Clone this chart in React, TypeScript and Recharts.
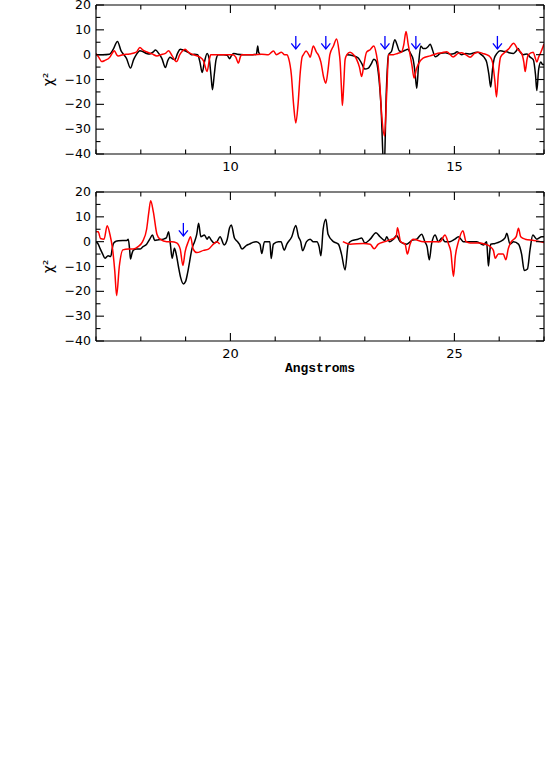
import React from 'react';
import { ComposedChart, Line, Scatter, XAxis, YAxis } from 'recharts';

type Pt = [number, number | null];

// upper panel, 7-17 Angstroms
const topBlack: Pt[] = [
  [7.0, 0], [7.15, 0], [7.3, 0.2], [7.38, 2], [7.48, 5.3], [7.56, 1.5], [7.62, 0], [7.68, -1.5],
  [7.77, -5.4], [7.84, -2], [7.9, 0], [7.98, 1.6], [8.05, 1.2], [8.13, 0.5], [8.2, 0.3], [8.27, 1],
  [8.33, 1.9], [8.4, 0.5], [8.47, -1.5], [8.55, -5.2], [8.6, -2.5], [8.65, -1], [8.72, -1.8],
  [8.76, -2], [8.82, 0.5], [8.88, 2.2], [8.95, 1.8], [9.0, 1.5], [9.07, 0.8], [9.13, 0], [9.2, 0.2],
  [9.27, 0], [9.32, -3], [9.37, -7.2], [9.42, -3], [9.48, 0.5], [9.53, -2], [9.57, -9], [9.6, -14.1],
  [9.64, -8], [9.68, -2], [9.73, 0], [9.85, 0], [9.93, -0.3], [9.98, -1.6], [10.02, -0.5],
  [10.07, 0.5], [10.15, 0.2], [10.3, 0], [10.5, 0], [10.58, 0.2], [10.61, 3.5], [10.63, 1],
  [10.66, 0.3], [11.6, null],
  [12.6, 0], [12.72, -0.3], [12.8, -0.8], [12.86, -1.4], [12.93, -3.5], [13.0, -5.8], [13.08, -5.4],
  [13.15, -3.5], [13.2, -1.8], [13.25, -2.5], [13.3, -7], [13.36, -20], [13.43, -48], [13.48, -15],
  [13.53, 0], [13.6, 1.5], [13.67, 6], [13.72, 4], [13.77, 1.5], [13.82, 1.2], [13.9, 1.8],
  [13.96, 2.2], [14.02, 0.5], [14.08, -2], [14.12, -7], [14.16, -13.5], [14.2, -4], [14.25, 3.5],
  [14.3, 2.5], [14.36, 2.5], [14.41, 3.2], [14.46, 4.2], [14.51, 2], [14.57, -0.8], [14.62, -0.5],
  [14.68, 0.5], [14.8, 0.8], [14.9, 0.2], [15.0, 0.5], [15.06, 1.2], [15.16, 0], [15.25, 0.5],
  [15.35, 0.3], [15.45, 0.8], [15.52, 1], [15.6, 0], [15.66, -1], [15.72, -3], [15.77, -8],
  [15.81, -13], [15.85, -6], [15.89, -1.5], [15.95, 0.5], [16.02, 1.6], [16.1, 1.3], [16.15, 1.3],
  [16.22, 0.8], [16.32, 0.5], [16.38, 1.5], [16.42, 2.5], [16.47, 1], [16.54, 0], [16.62, 0.3],
  [16.69, -1], [16.76, -2], [16.81, -8], [16.84, -14.4], [16.88, -6], [16.93, -3], [16.97, -4],
  [17.0, -4],
];

const topRed: Pt[] = [
  [7.0, 0.5], [7.06, -1], [7.13, -2.8], [7.2, -2.3], [7.31, -1], [7.36, 0.5], [7.41, 1.6],
  [7.46, 0], [7.5, -0.5], [7.6, 0], [7.75, 0.3], [7.9, 1], [7.98, 2.9], [8.05, 1.8], [8.15, 1],
  [8.25, 0.3], [8.36, -0.5], [8.45, 0], [8.55, 0.5], [8.62, 1.6], [8.7, -0.5], [8.8, -2.8],
  [8.87, 0], [8.93, 1.5], [8.99, 2.2], [9.06, 1], [9.17, 0], [9.32, -1], [9.4, -2.5], [9.48, -6.8],
  [9.53, -2], [9.56, 0], [9.7, 0], [9.9, 0], [10.06, 0], [10.12, -1], [10.18, -3.4], [10.22, -1],
  [10.25, 0], [10.5, 0], [10.7, 0.2], [10.85, 0], [10.96, 1.5], [11.03, 0], [11.14, 1], [11.21, 0],
  [11.26, 0], [11.3, -1.5], [11.36, -8], [11.41, -20], [11.46, -27.5], [11.51, -20], [11.56, -7],
  [11.6, -1], [11.63, 0], [11.69, 1.5], [11.75, 0], [11.78, -1], [11.85, 3.5], [11.92, 1],
  [11.96, 0], [12.02, -3], [12.08, -9], [12.13, -11.5], [12.18, -6], [12.22, 0], [12.3, 3.5],
  [12.37, 6.3], [12.42, 2], [12.45, -3], [12.48, -14], [12.5, -20.5], [12.53, -12], [12.56, -2],
  [12.6, 0], [12.67, 1], [12.75, 0], [12.82, -2], [12.88, -5], [12.93, -8.8], [12.98, -4],
  [13.04, 1], [13.12, 2], [13.2, 3.5], [13.26, 0], [13.32, -8], [13.38, -25], [13.44, -32.8],
  [13.49, -15], [13.53, 0], [13.64, 0], [13.73, 0.5], [13.82, 1], [13.87, 4], [13.92, 9.3],
  [13.97, 4], [14.01, 0], [14.05, -4], [14.1, -9.4], [14.15, -6], [14.19, -4], [14.3, -1.4],
  [14.46, -0.5], [14.6, 0.4], [14.72, 0.8], [14.83, 1.2], [14.97, -0.9], [15.08, 0.5], [15.16, 0.8],
  [15.25, 0], [15.35, -1], [15.45, 0.5], [15.54, 1], [15.63, 0.5], [15.72, 0], [15.8, -1],
  [15.85, -3], [15.9, -10], [15.94, -17], [15.98, -8], [16.03, -1], [16.13, 1], [16.22, 2.5],
  [16.32, 4.6], [16.42, 2], [16.5, 0.5], [16.55, -3], [16.58, -6.8], [16.62, -2], [16.65, 0],
  [16.76, 1], [16.8, -1], [16.84, -3], [16.88, -1], [16.93, 1], [17.0, 4.3],
];

// lower panel, 17-27 Angstroms
const bottomBlack: Pt[] = [
  [17.0, 0], [17.05, -1], [17.09, -2.7], [17.15, -5], [17.2, -6.7], [17.27, -5.7], [17.33, -6],
  [17.36, -3], [17.39, -0.7], [17.45, 0.2], [17.5, 0.4], [17.6, 0.5], [17.69, 0.5], [17.72, 1],
  [17.75, -3], [17.77, -7], [17.8, -5], [17.83, -3.5], [17.9, -3], [17.98, -3], [18.05, -2],
  [18.13, -1], [18.2, 1], [18.26, 2.7], [18.31, 0.5], [18.4, 0.8], [18.5, 1], [18.57, 1.5],
  [18.62, 4], [18.66, -1], [18.7, -6.7], [18.75, -2.7], [18.79, -5], [18.84, -10], [18.89, -14.5],
  [18.95, -17], [19.0, -16], [19.04, -13], [19.09, -8], [19.14, -3], [19.2, 0], [19.25, 3],
  [19.29, 7.4], [19.34, 2], [19.42, 2.7], [19.48, 1], [19.52, 2], [19.57, 0.7], [19.64, -0.5],
  [19.7, 0], [19.77, 2], [19.86, -1.3], [19.93, 1], [19.98, 5.5], [20.02, 6.7], [20.09, 1.5],
  [20.16, 0], [20.2, -1], [20.26, -3], [20.36, -1.5], [20.42, -1], [20.5, -0.3], [20.58, 0],
  [20.66, -1], [20.7, -4.8], [20.76, 0], [20.88, 0], [20.91, -6.8], [20.96, -1], [21.07, 0],
  [21.13, 0], [21.2, -3.4], [21.26, -1], [21.37, 2], [21.46, 6.5], [21.52, 2], [21.57, 0],
  [21.61, -3.6], [21.7, 0], [21.78, 1], [21.85, 0], [21.93, 0], [21.98, -2], [22.02, -5.7],
  [22.07, 5], [22.13, 9], [22.18, 3], [22.3, 0], [22.41, -1], [22.48, -5], [22.56, -11.4],
  [22.63, -1], [22.71, 0.4], [22.85, 1], [22.93, 1.5], [23.0, -0.5], [23.12, 1], [23.25, 3.6],
  [23.34, 2], [23.45, 0.5], [23.49, 2], [23.55, 0], [23.64, 1], [23.71, 2.5], [23.79, 0],
  [23.93, -1], [24.05, 0.5], [24.16, 1], [24.27, 3], [24.34, 0], [24.39, -2], [24.44, -7.3],
  [24.49, -1], [24.57, 2.7], [24.64, 0], [24.72, 1.5], [24.79, 0], [24.9, 0], [25.01, 1],
  [25.09, 2], [25.2, 0], [25.35, 0], [25.5, 0], [25.65, -1.3], [25.72, 0], [25.74, -5],
  [25.76, -9.8], [25.79, -4], [25.81, -1], [25.91, -0.7], [26.02, 0], [26.13, 1.5], [26.17, 3.4],
  [26.24, -1], [26.32, 0], [26.43, -1], [26.5, -5], [26.56, -11.6], [26.63, -11], [26.69, -3],
  [26.75, 2.7], [26.84, 1], [26.95, 2], [27.0, 2],
];

const bottomRed: Pt[] = [
  [17.0, 4], [17.05, 4], [17.1, 1.3], [17.18, 1], [17.25, 6.4], [17.31, 3], [17.37, -3],
  [17.42, -12], [17.46, -21.7], [17.52, -10], [17.6, -3.3], [17.72, -3], [17.83, -3], [17.94, -2],
  [18.04, 0], [18.13, 5], [18.18, 12], [18.22, 16.5], [18.28, 12], [18.36, 3], [18.43, 1],
  [18.58, 0], [18.69, 0], [18.8, -0.5], [18.88, -3], [18.94, -9.6], [18.99, -4], [19.06, 0],
  [19.11, 2], [19.17, -3], [19.25, -4.4], [19.4, -3.5], [19.51, -3], [19.62, -1], [19.7, 0],
  [19.76, -1], [21.0, null],
  [22.51, 0], [22.67, -1], [22.97, -0.7], [23.12, -1], [23.21, -2.9], [23.3, -1], [23.45, 0],
  [23.6, 1], [23.7, 2], [23.73, 5.6], [23.8, 0], [23.9, -1], [23.95, -5], [24.01, -1], [24.08, 1],
  [24.31, 0], [24.53, 0], [24.68, 0], [24.79, 2.7], [24.87, -1], [24.92, -4], [24.98, -14],
  [25.02, -6], [25.09, 0], [25.19, 4.4], [25.26, 0], [25.35, -0.5], [25.57, -0.5], [25.68, -1],
  [25.8, -2], [25.87, -3.5], [25.91, -6.7], [25.98, -5], [26.09, -5], [26.15, -7.3], [26.2, -3],
  [26.27, 0], [26.38, 2], [26.43, 5.4], [26.48, 2], [26.58, 1], [26.77, 0.5], [27.0, -0.3],
];

const topArrows = [11.46, 12.13, 13.45, 14.14, 15.96];
const bottomArrows = [18.95];
const arrowLevel = 2.3;

const topXTicks = [7, 8, 9, 10, 11, 12, 13, 14, 15, 16, 17];
const bottomXTicks = [17, 18, 19, 20, 21, 22, 23, 24, 25, 26, 27];
const yTicks = [-40, -35, -30, -25, -20, -15, -10, -5, 0, 5, 10, 15, 20];

const rows = (pts: Pt[]) => pts.map(([x, y]) => ({ x, y }));

const FONT = '"DejaVu Sans", sans-serif';
const AXIS = { stroke: '#000', strokeWidth: 1.2 };

const fmt = (v: number) => (v < 0 ? `\u2212${-v}` : `${v}`);

const XTick = (p: any) => {
  const { x, y, payload, side } = p;
  const v = payload.value;
  const major = v % 5 === 0;
  const len = major ? 8 : 4.5;
  const dir = side === 'bottom' ? -1 : 1;
  return (
    <g>
      <line x1={x} x2={x} y1={y} y2={y + dir * len} stroke="#000" strokeWidth={1.1} />
      {side === 'bottom' && major && (
        <text x={x} y={y + 17} textAnchor="middle" fontFamily={FONT} fontSize={13} fill="#000">
          {v}
        </text>
      )}
    </g>
  );
};

const YTick = (p: any) => {
  const { x, y, payload, side } = p;
  const v = payload.value;
  const major = v % 10 === 0;
  const len = major ? 8 : 4.5;
  const dir = side === 'left' ? 1 : -1;
  return (
    <g>
      <line x1={x} x2={x + dir * len} y1={y} y2={y} stroke="#000" strokeWidth={1.1} />
      {side === 'left' && major && (
        <text x={x - 5} y={y + 4} textAnchor="end" fontFamily={FONT} fontSize={12.5} fill="#000">
          {fmt(v)}
        </text>
      )}
    </g>
  );
};

const ChiLabel = (p: any) => {
  const vb = p.viewBox;
  const cx = vb.x + 12;
  const cy = vb.y + vb.height / 2;
  return (
    <text
      transform={`translate(${cx},${cy}) rotate(-90)`}
      textAnchor="middle"
      dominantBaseline="central"
      fontFamily={FONT}
      fontSize={14}
      fill="#000"
    >
      χ²
    </text>
  );
};

const XTitle = (p: any) => {
  const vb = p.viewBox;
  return (
    <text
      x={vb.x + vb.width / 2}
      y={vb.y + 31}
      textAnchor="middle"
      fontFamily='"Liberation Mono", monospace'
      fontWeight="bold"
      fontSize={13}
      fill="#000"
    >
      Angstroms
    </text>
  );
};

const Arrow = (p: any) => {
  const { cx, cy } = p;
  return (
    <g stroke="#0000ff" strokeWidth={1.3} fill="none">
      <line x1={cx} y1={cy - 13} x2={cx} y2={cy} />
      <polyline points={`${cx - 4.5},${cy - 5.5} ${cx},${cy} ${cx + 4.5},${cy - 5.5}`} />
    </g>
  );
};

interface PanelProps {
  top: number;
  height: number;
  topH: number;
  bottomH: number;
  domain: [number, number];
  xTicks: number[];
  black: Pt[];
  red: Pt[];
  arrows: number[];
  title?: boolean;
}

const Panel = ({ top, height, topH, bottomH, domain, xTicks, black, red, arrows, title }: PanelProps) => (
  <div style={{ position: 'absolute', left: 0, top }}>
    <ComposedChart width={545} height={height} margin={{ top: 0, right: 0, bottom: 0, left: 36 }}>
      <XAxis
        xAxisId="b"
        dataKey="x"
        type="number"
        orientation="bottom"
        domain={domain}
        ticks={xTicks}
        interval={0}
        allowDataOverflow
        height={bottomH}
        tickSize={0}
        tickMargin={0}
        tickLine={false}
        axisLine={AXIS}
        tick={(p: any) => <XTick {...p} side="bottom" />}
        label={title ? (p: any) => <XTitle {...p} /> : undefined}
      />
      <XAxis
        xAxisId="t"
        dataKey="x"
        type="number"
        orientation="top"
        domain={domain}
        ticks={xTicks}
        interval={0}
        allowDataOverflow
        height={topH}
        tickSize={0}
        tickMargin={0}
        tickLine={false}
        axisLine={AXIS}
        tick={(p: any) => <XTick {...p} side="top" />}
      />
      <YAxis
        yAxisId="l"
        dataKey="y"
        type="number"
        domain={[-40, 20]}
        ticks={yTicks}
        interval={0}
        allowDataOverflow
        width={60}
        tickSize={0}
        tickMargin={0}
        tickLine={false}
        axisLine={AXIS}
        tick={(p: any) => <YTick {...p} side="left" />}
        label={(p: any) => <ChiLabel {...p} />}
      />
      <YAxis
        yAxisId="r"
        dataKey="y"
        type="number"
        orientation="right"
        domain={[-40, 20]}
        ticks={yTicks}
        interval={0}
        allowDataOverflow
        width={1}
        tickSize={0}
        tickMargin={0}
        tickLine={false}
        axisLine={AXIS}
        tick={(p: any) => <YTick {...p} side="right" />}
      />
      <Line
        xAxisId="b"
        yAxisId="l"
        data={rows(black)}
        dataKey="y"
        type="monotone"
        stroke="#000"
        strokeWidth={1.5}
        dot={false}
        connectNulls={false}
        isAnimationActive={false}
      />
      <Line
        xAxisId="b"
        yAxisId="l"
        data={rows(red)}
        dataKey="y"
        type="monotone"
        stroke="#ff0000"
        strokeWidth={1.5}
        dot={false}
        connectNulls={false}
        isAnimationActive={false}
      />
      <Scatter
        xAxisId="b"
        yAxisId="l"
        data={arrows.map((x) => ({ x, y: arrowLevel }))}
        dataKey="y"
        shape={Arrow}
        isAnimationActive={false}
      />
    </ComposedChart>
  </div>
);

export default function App() {
  return (
    <div style={{ position: 'absolute', left: 0, top: 0, width: 545, height: 757, background: '#fff' }}>
      <Panel
        top={0}
        height={180}
        topH={5}
        bottomH={26}
        domain={[7, 17]}
        xTicks={topXTicks}
        black={topBlack}
        red={topRed}
        arrows={topArrows}
      />
      <Panel
        top={180}
        height={207}
        topH={12}
        bottomH={46}
        domain={[17, 27]}
        xTicks={bottomXTicks}
        black={bottomBlack}
        red={bottomRed}
        arrows={bottomArrows}
        title
      />
    </div>
  );
}
